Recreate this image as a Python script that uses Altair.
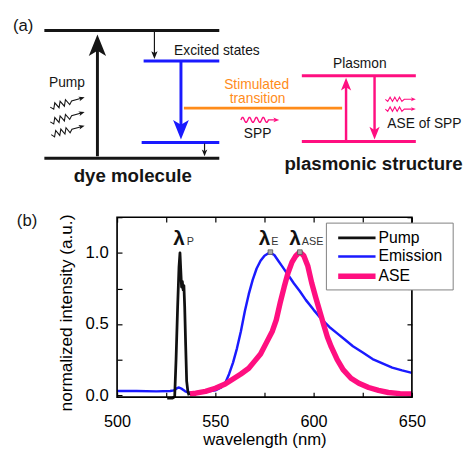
import math
import altair as alt
import pandas as pd

# ---------------- spectra (panel b) ----------------
pump_wl = [525.5, 528.0, 529.3, 530.0, 530.8, 531.5, 532.0, 532.4, 532.8, 533.2, 533.6, 534.0,
           534.4, 534.9, 535.4, 536.0, 536.6]
pump_val = [-0.02, -0.02, -0.01, 0.25, 0.62, 0.9, 1.0, 0.88, 0.76, 0.8, 0.74, 0.77,
            0.62, 0.35, 0.1, 0.03, 0.0]

emis_wl = [500, 510, 520, 527, 529, 530.5, 531.5, 533, 534.5, 536, 540, 545, 550, 553, 555, 557,
           559, 561, 563, 565, 567, 569, 571, 573, 575, 577, 578, 580, 582, 584, 586, 588, 590,
           593, 596, 600, 604, 608, 612, 616, 620, 625, 630, 635, 640, 645, 650]
emis_val = [0.03, 0.03, 0.028, 0.03, 0.035, 0.05, 0.055, 0.045, 0.03, 0.02, 0.02, 0.025, 0.035,
            0.055, 0.085, 0.15, 0.23, 0.33, 0.45, 0.59, 0.71, 0.81, 0.89, 0.945, 0.98, 0.997,
            1.0, 0.985, 0.945, 0.905, 0.865, 0.825, 0.785, 0.73, 0.67, 0.6, 0.535, 0.48, 0.435,
            0.39, 0.345, 0.3, 0.255, 0.225, 0.195, 0.175, 0.158]

ase_wl = [537, 540, 545, 550, 555, 559, 563, 567, 570, 573, 576, 579, 581, 583, 585, 587, 589,
          591, 592.5, 593.5, 595, 597, 599, 601, 603, 605, 607, 609, 612, 615, 619, 623, 628,
          633, 638, 644, 650]
ase_val = [0.01, 0.015, 0.028, 0.05, 0.08, 0.115, 0.15, 0.19, 0.24, 0.29, 0.37, 0.45, 0.53,
           0.65, 0.76, 0.86, 0.935, 0.98, 1.0, 1.0, 0.98, 0.91, 0.79, 0.69, 0.595, 0.5, 0.41,
           0.34, 0.25, 0.18, 0.12, 0.085, 0.055, 0.035, 0.02, 0.012, 0.01]

series_names = ["Pump", "Emission", "ASE"]
series_colors = ["#111111", "#1a1aff", "#ff0f80"]
series_widths = [2.8, 2.5, 5.5]

x_ticks = [500, 525, 550, 575, 600, 625, 650]
y_ticks = [0, 0.25, 0.5, 0.75, 1.0, 1.25]

lam_x = [531.5, 575.0, 590.5]          # lambda symbol positions (nm)
lam_y = [1.095, 1.095, 1.095]
sub_x = [535.5, 578.5, 594.0]          # subscript start positions (nm)
sub_text = ["P", "E", "ASE"]
marker_wl = [578, 593]
marker_val = [1.005, 1.005]

# ---------------- schematic (panel a), reference pixel coordinates ----------------
BLACK, BLUE, PINK, ORANGE = "#151515", "#1a1aff", "#ff0f80", "#ff8c1a"

level_x0 = [45, 45, 146, 144, 187, 307, 307]
level_x1 = [223, 223, 223, 223, 348, 423, 423]
level_y = [27, 157, 58, 141, 106, 73, 140]
level_c = [BLACK, BLACK, BLUE, BLUE, ORANGE, PINK, PINK]

arr_x = [99, 157, 184, 208, 352, 381]
arr_y0 = [155, 28, 59, 142, 139, 74]
arr_tip = [31, 56, 138, 155, 75, 138]
arr_len = [22, 8, 20, 7, 13, 13]
arr_w = [3, 1.2, 3, 1.2, 2.5, 2.5]
arr_c = [BLACK, BLACK, BLUE, BLACK, PINK, PINK]

zig_start = [(51, 105), (51, 120), (52, 133), (392, 97), (392, 107)]
zig_tip = [(86, 95), (86, 110), (86, 124), (423, 97), (423, 107)]
zig_c = [BLACK, BLACK, BLACK, PINK, PINK]
wave_start, wave_tip = (245, 118), (284, 118)

txt_c = ["Pump", "Stimulated", "transition", "SPP", "Plasmon"]
txt_c_x = [68, 261, 262, 262, 366]
txt_c_y = [81, 83, 97, 132, 61]
txt_c_col = [BLACK, ORANGE, ORANGE, BLACK, BLACK]
txt_l = ["(a)", "(b)", "Excited states", "ASE of SPP"]
txt_l_x = [13, 17, 177, 394]
txt_l_y = [23, 221, 48, 122]
txt_l_s = [17, 17, 14, 14]
txt_b = ["dye molecule", "plasmonic structure"]
txt_b_x = [135, 380]
txt_b_y = [175, 163]

# legend box (reference pixel coordinates)
leg_box = (332, 223, 461, 291)
leg_row_y = [238, 257, 277]
leg_sym_x = (344, 382)
leg_text_x = 385

# ---------------- layout ----------------
OX, OY = 119, 217          # plot origin on the page
W, H = 300, 183
FONT = "Liberation Sans"
ARROW = "M0,-1L0.8,1L0,0.5L-0.8,1Z"


def px(v):
    return v - OX


def py(v):
    return v - OY


xscale = alt.Scale(domain=[500, 650], nice=False, zero=False)
yscale = alt.Scale(domain=[-0.012, 1.25], nice=False, zero=False)

x_axis = alt.Axis(orient="bottom", values=x_ticks, labelExpr="datum.value % 50 == 0 ? datum.label : ''",
                  tickSize=5, offset=-5, labelPadding=17, labelFontSize=16.5, labelFlush=False,
                  labelOverlap=False, title="wavelength (nm)", titleFontSize=17, titlePadding=1.5)
y_axis = alt.Axis(orient="left", values=y_ticks,
                  labelExpr="round(datum.value*100) % 50 == 0 ? format(datum.value, '.1f') : ''",
                  tickSize=5, offset=-5, labelPadding=9, labelFontSize=17, labelFlush=False,
                  labelOverlap=False, title="normalized intensity (a.u.)", titleFontSize=17.5,
                  titlePadding=10, titleY=97)


def line_layer(wl, val, name, axes=False):
    k = series_names.index(name)
    df = pd.DataFrame({"wl": wl, "val": val, "i": list(range(len(wl)))})
    return alt.Chart(df).mark_line(strokeJoin="round", color=series_colors[k],
                                   strokeWidth=series_widths[k]).encode(
        x=alt.X("wl:Q", scale=xscale, axis=x_axis if axes else None),
        y=alt.Y("val:Q", scale=yscale, axis=y_axis if axes else None),
        order="i:Q")


frame_axes = alt.Chart(pd.DataFrame({"wl": emis_wl, "val": emis_val})).mark_point(opacity=0).encode(
    x=alt.X("wl:Q", scale=xscale, axis=alt.Axis(orient="top", values=x_ticks, labels=False, tickSize=5,
                                                offset=-5, title=None)),
    y=alt.Y("val:Q", scale=yscale, axis=alt.Axis(orient="right", values=y_ticks, labels=False, tickSize=5,
                                                 offset=-5, title=None)))

markers = alt.Chart(pd.DataFrame({"wl": marker_wl, "val": marker_val})).mark_square(
    size=22, fill="#a8a8a8", stroke="#555555", strokeWidth=0.8, opacity=1).encode(
    x=alt.X("wl:Q", scale=xscale, axis=None), y=alt.Y("val:Q", scale=yscale, axis=None))

lam = alt.Chart(pd.DataFrame({"wl": lam_x, "val": lam_y})).mark_text(
    text="λ", fontSize=21, fontWeight="bold", font=FONT, color="#111", baseline="middle").encode(
    x=alt.X("wl:Q", scale=xscale, axis=None), y=alt.Y("val:Q", scale=yscale, axis=None))
subs = alt.Chart(pd.DataFrame({"wl": sub_x, "val": lam_y, "t": sub_text})).mark_text(
    fontSize=11, font=FONT, color="#333", align="left", baseline="middle", dy=3).encode(
    x=alt.X("wl:Q", scale=xscale, axis=None), y=alt.Y("val:Q", scale=yscale, axis=None), text="t:N")

# ---------- identity-scale layers (pixel offsets from plot origin) ----------
NX = dict(scale=None, axis=None)

frame = alt.Chart(pd.DataFrame({"x": [0], "x2": [W], "y": [0], "y2": [H]})).mark_rect(
    fill=None, fillOpacity=0, stroke="black", strokeWidth=1.7).encode(
    x=alt.X("x:Q", **NX), x2="x2:Q", y=alt.Y("y:Q", **NX), y2="y2:Q")

# legend
lbox = alt.Chart(pd.DataFrame({"x": [px(leg_box[0])], "x2": [px(leg_box[2])],
                               "y": [py(leg_box[1])], "y2": [py(leg_box[3])]})).mark_rect(
    fill="white", stroke="#808080", strokeWidth=1).encode(
    x=alt.X("x:Q", **NX), x2="x2:Q", y=alt.Y("y:Q", **NX), y2="y2:Q")
ldf = pd.DataFrame({"name": series_names, "c": series_colors, "w": series_widths,
                    "y": [py(v) for v in leg_row_y],
                    "x": px(leg_sym_x[0]), "x2": px(leg_sym_x[1]), "tx": px(leg_text_x)})
lsym = alt.Chart(ldf).mark_rule().encode(
    x=alt.X("x:Q", **NX), x2="x2:Q", y=alt.Y("y:Q", **NX),
    color=alt.Color("c:N", scale=None), strokeWidth=alt.StrokeWidth("w:Q", scale=None))
ltxt = alt.Chart(ldf).mark_text(fontSize=16, font=FONT, align="left", baseline="middle", color="black").encode(
    x=alt.X("tx:Q", **NX), y=alt.Y("y:Q", **NX), text="name:N")

lv = pd.DataFrame({"x": [px(v) for v in level_x0], "x2": [px(v) for v in level_x1],
                   "y": [py(v) for v in level_y], "c": level_c})
levels = alt.Chart(lv).mark_rule(strokeWidth=3).encode(
    x=alt.X("x:Q", **NX), x2="x2:Q", y=alt.Y("y:Q", **NX), color=alt.Color("c:N", scale=None))

heads = []
shafts = []
for x, y0, yt, L, w, c in zip(arr_x, arr_y0, arr_tip, arr_len, arr_w, arr_c):
    d = -1 if yt < y0 else 1
    heads.append({"x": px(x), "y": py(yt - d * L / 2), "s": L * L, "a": 0 if d < 0 else 180, "c": c})
    shafts.append({"x": px(x), "y": py(y0), "y2": py(yt - d * 0.7 * L), "w": w, "c": c})

paths = []


def add_path(pid, pts, c, w):
    for k, (a, b) in enumerate(pts):
        paths.append({"id": pid, "k": k, "x": px(a), "y": py(b), "c": c, "w": w})


for n, ((x0, y0), (x1, y1), c) in enumerate(zip(zig_start, zig_tip, zig_c)):
    L = math.hypot(x1 - x0, y1 - y0)
    ux, uy = (x1 - x0) / L, (y1 - y0) / L
    nx, ny = -uy, ux
    hl = 6 if c == BLACK else 5
    amp = 3 if c == BLACK else 2.2
    zl = 0.62 * L
    pts = [(x0, y0)]
    teeth = 4
    for k in range(1, 2 * teeth + 1):
        t = zl * k / (2 * teeth)
        off = 0 if k == 2 * teeth else (amp if k % 2 else -amp)
        pts.append((x0 + ux * t + nx * off, y0 + uy * t + ny * off))
    pts.append((x1 - ux * 0.6 * hl, y1 - uy * 0.6 * hl))
    add_path("z%d" % n, pts, c, 1.1)
    ang = math.degrees(math.atan2(ux, -uy))
    heads.append({"x": px(x1 - ux * hl / 2), "y": py(y1 - uy * hl / 2), "s": hl * hl, "a": ang, "c": c})

(wx0, wy0), (wx1, wy1) = wave_start, wave_tip
wpts = []
for k in range(41):
    t = k / 40
    wpts.append((wx0 + 28 * t, wy0 - 2.6 * math.sin(2 * math.pi * 4 * t)))
wpts.append((wx1 - 4, wy1))
add_path("w", wpts, PINK, 1.4)
heads.append({"x": px(wx1 - 3), "y": py(wy1), "s": 36, "a": 90, "c": PINK})

sh = alt.Chart(pd.DataFrame(shafts)).mark_rule().encode(
    x=alt.X("x:Q", **NX), y=alt.Y("y:Q", **NX), y2="y2:Q",
    color=alt.Color("c:N", scale=None), strokeWidth=alt.StrokeWidth("w:Q", scale=None))
hd = alt.Chart(pd.DataFrame(heads)).mark_point(shape=ARROW, filled=True, opacity=1, strokeWidth=0).encode(
    x=alt.X("x:Q", **NX), y=alt.Y("y:Q", **NX), size=alt.Size("s:Q", scale=None),
    angle=alt.Angle("a:Q", scale=None), color=alt.Color("c:N", scale=None))
sq = alt.Chart(pd.DataFrame(paths)).mark_line(strokeJoin="miter").encode(
    x=alt.X("x:Q", **NX), y=alt.Y("y:Q", **NX), detail="id:N", order="k:Q",
    color=alt.Color("c:N", scale=None), strokeWidth=alt.StrokeWidth("w:Q", scale=None))

tc = alt.Chart(pd.DataFrame({"x": [px(v) for v in txt_c_x], "y": [py(v) for v in txt_c_y],
                             "t": txt_c, "c": txt_c_col})).mark_text(
    fontSize=14, font=FONT, align="center", baseline="middle").encode(
    x=alt.X("x:Q", **NX), y=alt.Y("y:Q", **NX), text="t:N", color=alt.Color("c:N", scale=None))
tl = alt.Chart(pd.DataFrame({"x": [px(v) for v in txt_l_x], "y": [py(v) for v in txt_l_y],
                             "t": txt_l, "s": txt_l_s})).mark_text(
    font=FONT, align="left", baseline="middle", color=BLACK).encode(
    x=alt.X("x:Q", **NX), y=alt.Y("y:Q", **NX), text="t:N", size=alt.Size("s:Q", scale=None))
tb = alt.Chart(pd.DataFrame({"x": [px(v) for v in txt_b_x], "y": [py(v) for v in txt_b_y],
                             "t": txt_b})).mark_text(
    font=FONT, fontSize=19, fontWeight="bold", align="center", baseline="middle", color=BLACK).encode(
    x=alt.X("x:Q", **NX), y=alt.Y("y:Q", **NX), text="t:N")

chart = alt.layer(
    line_layer(emis_wl, emis_val, "Emission", axes=True), line_layer(ase_wl, ase_val, "ASE"),
    line_layer(pump_wl, pump_val, "Pump"), frame_axes, frame, markers, lam, subs,
    lbox, lsym, ltxt,
    levels, sh, sq, hd, tc, tl, tb
).resolve_axis(x="independent", y="independent").properties(
    width=W, height=H,
    autosize=alt.AutoSizeParams(type="none"),
    padding={"left": OX - 8, "top": OY - 8, "right": 463 - (OX - 8) - W, "bottom": 443 - (OY - 8) - H},
).configure_view(stroke=None).configure_axis(
    grid=False, domain=False, tickColor="black", tickWidth=1.2, labelColor="black", titleColor="black",
    labelFont=FONT, titleFont=FONT, titleFontWeight="normal"
)

chart.save("out.html", embed_options={"renderer": "svg", "actions": False})
